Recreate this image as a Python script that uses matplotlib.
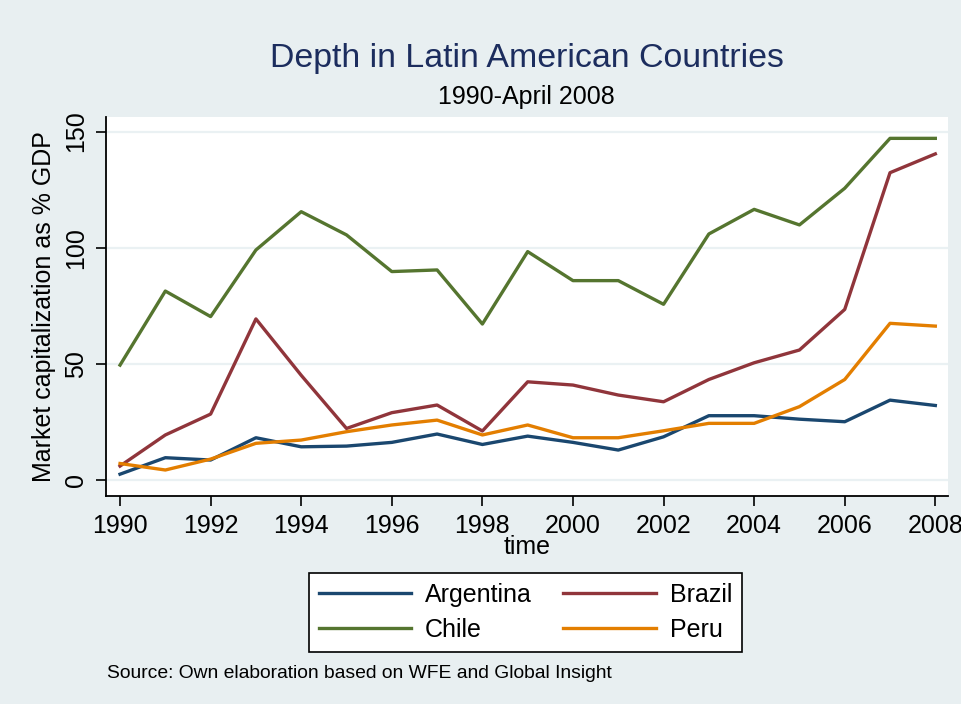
import matplotlib
matplotlib.use("Agg")
import matplotlib.pyplot as plt

plt.rcParams["font.family"] = ["Liberation Sans", "DejaVu Sans"]

# Market capitalization as % of GDP
years = list(range(1990, 2009))
argentina = [2.4, 9.5, 8.5, 18.1, 14.2, 14.5, 16.1, 19.7, 15.2, 18.8,
             16.1, 12.8, 18.5, 27.6, 27.6, 26.1, 25.0, 34.3, 32.0]
brazil = [5.9, 19.3, 28.3, 69.3, 45.0, 22.1, 28.9, 32.2, 21.0, 42.2,
          40.8, 36.5, 33.6, 43.2, 50.4, 55.9, 73.4, 132.3, 140.4]
chile = [49.4, 81.3, 70.3, 99.0, 115.5, 105.5, 89.7, 90.4, 67.1, 98.3,
         85.8, 85.8, 75.6, 105.9, 116.5, 109.8, 125.6, 147.1, 147.1]
peru = [7.0, 4.2, 8.9, 15.7, 17.1, 20.7, 23.6, 25.7, 19.3, 23.6,
        18.1, 18.1, 21.1, 24.3, 24.3, 31.5, 43.2, 67.4, 66.2]

x_ticks = list(range(1990, 2009, 2))
y_ticks = [0, 50, 100, 150]

BG = "#e8eff1"
W, H = 962, 704

fig = plt.figure(figsize=(W / 100, H / 100), dpi=100)
fig.patch.set_facecolor(BG)

# plot region in pixel coords (left, top, right, bottom)
l, t, r, b = 106, 117, 948, 496
ax = fig.add_axes([l / W, 1 - b / H, (r - l) / W, (b - t) / H])
ax.set_facecolor("white")

for yv in y_ticks:
    ax.axhline(yv, color="#eaf1f3", lw=1.6, zorder=0)

series = [
    ("Argentina", argentina, "#1a476f"),
    ("Brazil", brazil, "#90353b"),
    ("Chile", chile, "#55752f"),
    ("Peru", peru, "#e37e00"),
]
handles = {}
for name, vals, col in series:
    (ln,) = ax.plot(years, vals, color=col, lw=2.4)
    handles[name] = ln

ax.set_xlim(1989.69, 2008.28)
ax.set_ylim(-7.0, 156.3)
ax.set_xticks(x_ticks)
ax.set_yticks(y_ticks)
ax.set_yticklabels([str(v) for v in y_ticks], rotation=90, va="center")
ax.tick_params(axis="both", labelsize=18, length=7, width=1.2, color="black")
ax.tick_params(axis="y", pad=6)
ax.tick_params(axis="x", pad=6)
for side in ("top", "right"):
    ax.spines[side].set_visible(False)
for side in ("left", "bottom"):
    ax.spines[side].set_linewidth(1.3)

ax.set_ylabel("Market capitalization as % GDP", fontsize=18, labelpad=6)
ax.set_xlabel("time", fontsize=18, labelpad=-2)

fig.text(527 / W, 1 - 59 / H, "Depth in Latin American Countries",
         ha="center", va="center", fontsize=24.4, color="#1c2d5e")
fig.text(526 / W, 1 - 97 / H, "1990-April 2008",
         ha="center", va="center", fontsize=18, color="black")

order = ["Argentina", "Chile", "Brazil", "Peru"]
leg = fig.legend([handles[n] for n in order], order,
                 loc="center", bbox_to_anchor=(525.5 / W, 1 - 612.5 / H),
                 ncol=2, fontsize=18, frameon=True, fancybox=False,
                 edgecolor="black", facecolor="white", framealpha=1,
                 handlelength=3.7, handletextpad=0.56,
                 columnspacing=1.25, labelspacing=0.44, borderpad=0.4)
leg.get_frame().set_linewidth(1.2)

fig.text(107 / W, 1 - 674 / H, "Source: Own elaboration based on WFE and Global Insight",
         ha="left", va="center", fontsize=13.9, color="black")

fig.savefig("out.png", dpi=100, facecolor=fig.get_facecolor())
